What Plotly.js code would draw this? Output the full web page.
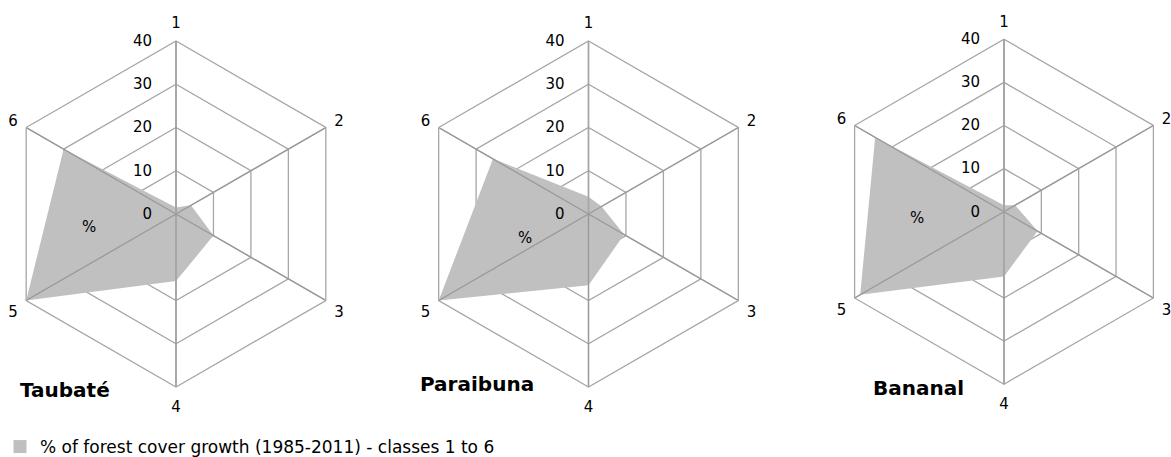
<!DOCTYPE html>
<html>
<head>
<meta charset="utf-8">
<script src="https://cdn.plot.ly/plotly-3.0.1.min.js"></script>
<style>
html,body{margin:0;padding:0;overflow:hidden;background:#fff;}
#chart{width:1180px;height:475px;}
</style>
</head>
<body>
<div id="chart"></div>
<script>
// ---- data ----
const classes = ['1', '2', '3', '4', '5', '6'];
const taubate = [1.5, 4, 10, 15.5, 40, 30];
const paraibuna = [4, 3.5, 9.5, 16.5, 40, 25.5];
const bananal = [1.5, 3, 9, 15, 38.5, 34.5];
const siteNames = ['Taubaté', 'Paraibuna', 'Bananal'];
const seriesName = '% of forest cover growth (1985-2011) - classes 1 to 6';
const radialTicks = [0, 10, 20, 30, 40];

// ---- styling ----
const W = 1180, H = 475;
const FONT = 'DejaVu Sans, Verdana, sans-serif';
const GRID = '#a6a6a6';
const FILL = '#c0c0c0';
const RMAX = radialTicks[radialTicks.length - 1];

function px(x) { return x / W; }
function py(y) { return (H - y) / H; }

function polar(cx, cy, r) {
  return {
    domain: { x: [px(cx - r), px(cx + r)], y: [py(cy + r), py(cy - r)] },
    bgcolor: 'rgba(0,0,0,0)',
    gridshape: 'linear',
    radialaxis: {
      range: [0, RMAX], tickvals: radialTicks, ticktext: radialTicks.map(String),
      angle: 90, side: 'counterclockwise',
      showline: true, linecolor: GRID, linewidth: 1.3, layer: 'above traces',
      showgrid: true, gridcolor: GRID, gridwidth: 1.3,
      ticks: 'outside', ticklen: 18, tickcolor: 'rgba(0,0,0,0)',
      tickangle: 90,
      tickfont: { family: FONT, size: 15, color: '#000' }
    },
    angularaxis: {
      type: 'category', direction: 'clockwise', rotation: 90,
      categoryarray: classes, categoryorder: 'array',
      showline: true, linecolor: GRID, linewidth: 1.3,
      showgrid: true, gridcolor: GRID, gridwidth: 1.3,
      ticks: 'outside', ticklen: 6, tickcolor: 'rgba(0,0,0,0)',
      tickfont: { family: FONT, size: 15, color: '#000' }
    }
  };
}

function area(vals, sub) {
  return {
    type: 'scatterpolar', subplot: sub,
    r: vals, theta: classes,
    mode: 'none', fill: 'toself', fillcolor: FILL,
    showlegend: false, hoverinfo: 'skip'
  };
}

// category spokes redrawn over the filled area (as in the original)
function spokes(sub) {
  return classes.map(c => ({
    type: 'scatterpolar', subplot: sub,
    r: [0, RMAX], theta: [c, c], mode: 'lines',
    line: { color: '#999999', width: 1.3 },
    showlegend: false, hoverinfo: 'skip'
  }));
}

const data = [
  area(taubate, 'polar'),
  area(paraibuna, 'polar2'),
  area(bananal, 'polar3'),
  ...spokes('polar'), ...spokes('polar2'), ...spokes('polar3'),
  {
    type: 'scatterpolar', subplot: 'polar', r: [null], theta: [classes[0]],
    mode: 'markers', name: seriesName,
    marker: { symbol: 'square', size: 13, color: FILL },
    showlegend: true, hoverinfo: 'skip'
  }
];

function title(text, x, y) {
  return { text: text, xref: 'paper', yref: 'paper', x: px(x), y: py(y),
    xanchor: 'left', yanchor: 'middle', showarrow: false,
    font: { family: FONT, size: 20, color: '#000', weight: 'bold' } };
}
function pct(x, y) {
  return { text: '%', xref: 'paper', yref: 'paper', x: px(x), y: py(y),
    xanchor: 'center', yanchor: 'middle', showarrow: false,
    font: { family: FONT, size: 15, color: '#000' } };
}

const layout = {
  width: W, height: H,
  margin: { l: 0, r: 0, t: 0, b: 0, pad: 0 },
  paper_bgcolor: '#fff',
  font: { family: FONT, size: 15, color: '#000' },
  polar: polar(176, 214, 173),
  polar2: polar(588.5, 214, 173),
  polar3: polar(1004, 211.7, 172.5),
  showlegend: true,
  legend: {
    x: px(0), y: py(447), xanchor: 'left', yanchor: 'middle',
    bgcolor: 'rgba(0,0,0,0)', font: { family: FONT, size: 17, color: '#000' }
  },
  annotations: [
    title(siteNames[0], 18, 390),
    title(siteNames[1], 418, 384),
    title(siteNames[2], 871, 388),
    pct(89, 227), pct(525, 238), pct(917, 218)
  ]
};

Plotly.newPlot('chart', data, layout, { staticPlot: true, displayModeBar: false });
</script>
</body>
</html>
